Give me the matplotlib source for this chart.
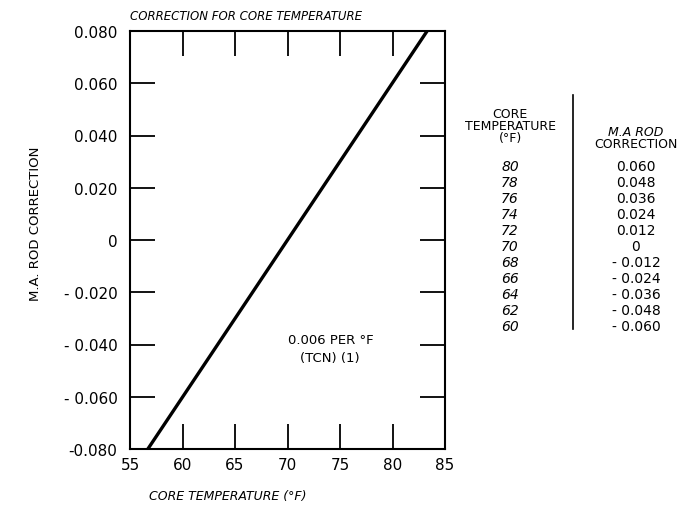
import numpy as np
import matplotlib.pyplot as plt

# correction line (0.006 per deg F, zero at 70)
line_temp = [56.7, 83.3]
line_corr = [-0.080, 0.080]

x_ticks = [55, 60, 65, 70, 75, 80, 85]
y_ticks = [-0.080, -0.060, -0.040, -0.020, 0, 0.020, 0.040, 0.060, 0.080]
y_labels = ['-0.080', '- 0.060', '- 0.040', '- 0.020', '0',
            '0.020', '0.040', '0.060', '0.080']

# table on the right
table_temp = ['80', '78', '76', '74', '72', '70', '68', '66', '64', '62', '60']
table_corr = ['0.060', '0.048', '0.036', '0.024', '0.012', '0',
              '- 0.012', '- 0.024', '- 0.036', '- 0.048', '- 0.060']

plt.rcParams['font.family'] = ['DejaVu Sans']

fig = plt.figure(figsize=(6.92, 5.06), dpi=100)
ax = fig.add_axes([130 / 692, 1 - 450 / 506, 315 / 692, 418 / 506])

ax.plot(line_temp, line_corr, color='black', lw=2.4)

ax.set_xlim(55, 85)
ax.set_ylim(-0.08, 0.08)
ax.set_xticks(x_ticks)
ax.set_xticklabels([str(t) for t in x_ticks], fontsize=11)
ax.set_yticks(y_ticks)
ax.set_yticklabels(y_labels, fontsize=11)
ax.tick_params(axis='both', direction='in', length=18, width=1.3,
               top=True, right=True)
ax.tick_params(axis='x', pad=6)
ax.tick_params(axis='y', pad=9)
for s in ax.spines.values():
    s.set_linewidth(1.5)

ax.set_xlabel('CORE TEMPERATURE (°F)', fontsize=9, style='italic')
ax.xaxis.set_label_coords(0.31, -0.095)
ax.set_ylabel('M.A. ROD CORRECTION', fontsize=9.5)
ax.yaxis.set_label_coords(-0.28, 0.54)
ax.set_title('CORRECTION FOR CORE TEMPERATURE', fontsize=8.5, style='italic',
             loc='left', pad=9)

ax.text(70.0, -0.038, '0.006 PER °F', fontsize=9.5, ha='left', va='center')
ax.text(71.2, -0.045, '(TCN) (1)', fontsize=9.5, ha='left', va='center')

# table
fs = 10
fig.text(510 / 692, 1 - 115 / 506, 'CORE', fontsize=fs - 1, ha='center', va='center')
fig.text(510 / 692, 1 - 127 / 506, 'TEMPERATURE', fontsize=fs - 1, ha='center', va='center')
fig.text(510 / 692, 1 - 139 / 506, '(°F)', fontsize=fs - 1, ha='center', va='center')
fig.text(636 / 692, 1 - 132 / 506, 'M.A ROD', fontsize=fs - 1, ha='center', va='center',
         style='italic')
fig.text(636 / 692, 1 - 144 / 506, 'CORRECTION', fontsize=fs - 1, ha='center', va='center')
for i, (t, c) in enumerate(zip(table_temp, table_corr)):
    y = 1 - (167 + 16 * i) / 506
    fig.text(510 / 692, y, t, fontsize=fs, ha='center', va='center', style='italic')
    fig.text(636 / 692, y, c, fontsize=fs, ha='center', va='center')
fig.add_artist(plt.Line2D([573 / 692, 573 / 692], [1 - 96 / 506, 1 - 330 / 506],
                          color='black', lw=1.2))

plt.savefig('out.png', dpi=100)
